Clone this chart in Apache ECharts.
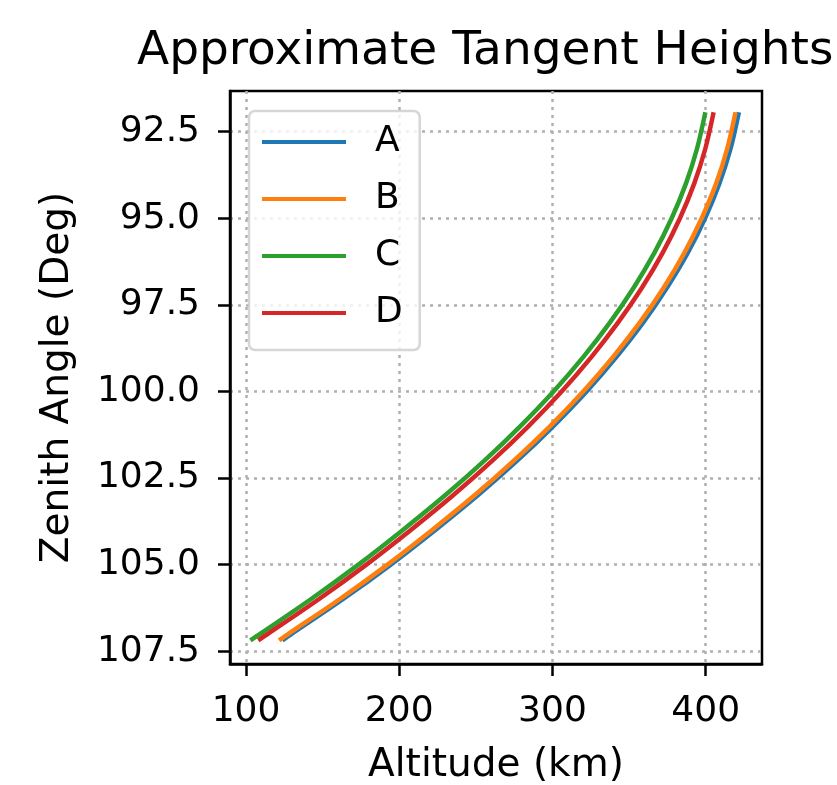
<!DOCTYPE html>
<html>
<head>
<meta charset="utf-8">
<script src="https://cdn.jsdelivr.net/npm/echarts@6/dist/echarts.min.js"></script>
<style>
  html, body { margin: 0; padding: 0; background: #fff; }
  #chart { width: 837px; height: 785px; }
</style>
</head>
<body>
<div id="chart"></div>
<script>
// zenith angles (deg) where the curves were read
var zenith = [92, 93, 94, 95, 96, 97, 98, 99, 100, 101, 102, 103, 104, 105, 106, 107, 107.15];

// tangent altitude (km) per series
var altA = [421.4, 416.2, 408.9, 399.6, 388.3, 374.8, 359.4, 341.8, 322.3, 300.6, 277.0, 251.3, 223.6, 194.5, 163.2, 129.8, 124.9];
var altB = [419.2, 414.0, 406.8, 397.4, 386.1, 372.7, 357.2, 339.6, 320.1, 298.5, 274.8, 249.2, 221.5, 192.4, 161.1, 127.7, 122.8];
var altC = [399.5, 394.3, 387.1, 377.8, 366.5, 353.1, 337.7, 320.2, 300.7, 279.1, 255.6, 230.0, 202.4, 173.4, 142.3, 109.2, 104.1];
var altD = [404.9, 399.7, 392.5, 383.2, 371.9, 358.5, 343.0, 325.5, 306.0, 284.4, 260.8, 235.2, 207.6, 178.6, 147.5, 114.3, 109.2];

var seriesNames = ['A', 'B', 'C', 'D'];
var seriesColors = ['#1f77b4', '#ff7f0e', '#2ca02c', '#d62728'];

var xTicks = [100, 200, 300, 400];
var yTicks = [92.5, 95.0, 97.5, 100.0, 102.5, 105.0, 107.5];

var font = 'DejaVu Sans';

function pairs(alt){
	var out = [];
	alt.forEach(function(a, i){
		out.push([a, zenith[i]]);
	});
	return out;
}

var allAlt = [altA, altB, altC, altD];
var series = [];
allAlt.forEach(function(alt, i){
	series.push({
		name: seriesNames[i],
		type: 'line',
		data: pairs(alt),
		showSymbol: false,
		smooth: 0.3,
		color: seriesColors[i],
		lineStyle: { width: 4.5, color: seriesColors[i], cap: 'square' }
	});
});

var chart = echarts.init(document.getElementById('chart'), null, { renderer: 'canvas' });

var option = {
	animation: false,
	backgroundColor: '#fff',
	title: {
		text: 'Approximate Tangent Heights',
		left: 137,
		top: 28,
		padding: 0,
		textStyle: { fontFamily: font, fontSize: 47, fontWeight: 'normal', color: '#000' }
	},
	grid: {
		left: 230, right: 75, top: 91, bottom: 121,
		outerBoundsMode: 'none',
		containLabel: false,
		show: true,
		borderColor: '#000',
		borderWidth: 2.5,
		backgroundColor: 'transparent'
	},
	legend: {
		orient: 'vertical',
		left: 249,
		top: 111,
		padding: [13, 17, 19, 13],
		itemGap: 21,
		itemWidth: 84,
		itemHeight: 4,
		icon: 'rect',
		backgroundColor: 'rgba(255,255,255,0.8)',
		borderColor: 'rgba(204,204,204,0.8)',
		borderWidth: 2.5,
		borderRadius: 6,
		textStyle: { fontFamily: font, fontSize: 36, color: '#000', padding: [0, 0, 0, 24] },
		data: seriesNames
	},
	xAxis: {
		type: 'value',
		min: 89.56,
		max: 436.76,
		name: 'Altitude (km)',
		nameLocation: 'middle',
		nameGap: 82,
		nameTextStyle: { fontFamily: font, fontSize: 39, color: '#000' },
		axisLine: { show: true, lineStyle: { color: '#000', width: 2.5 } },
		axisTick: { show: true, length: 12, lineStyle: { color: '#000', width: 2.5 }, customValues: xTicks },
		axisLabel: { fontFamily: font, fontSize: 36, color: '#000', margin: 30, customValues: xTicks },
		splitLine: { show: true, lineStyle: { color: '#b0b0b0', width: 2.5, type: [3, 5] } }
	},
	yAxis: {
		type: 'value',
		inverse: true,
		min: 91.325,
		max: 107.87,
		name: 'Zenith Angle (Deg)',
		nameLocation: 'middle',
		nameGap: 153,
		nameTextStyle: { fontFamily: font, fontSize: 39, color: '#000' },
		axisLine: { show: true, lineStyle: { color: '#000', width: 2.5 } },
		axisTick: { show: true, length: 12, lineStyle: { color: '#000', width: 2.5 }, customValues: yTicks },
		axisLabel: {
			fontFamily: font, fontSize: 36, color: '#000', margin: 30, customValues: yTicks,
			formatter: function(v){ return v.toFixed(1); }
		},
		splitLine: { show: true, lineStyle: { color: '#b0b0b0', width: 2.5, type: [3, 5] } }
	},
	series: series
};
chart.setOption(option);
</script>
</body>
</html>
